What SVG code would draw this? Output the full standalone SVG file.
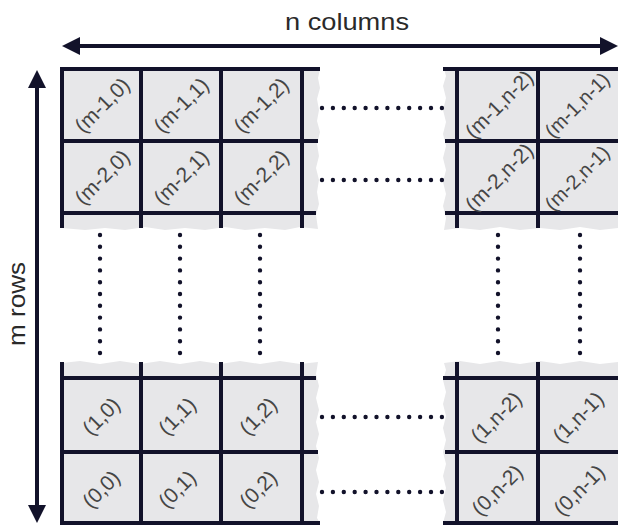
<svg xmlns="http://www.w3.org/2000/svg" width="618" height="530" viewBox="0 0 618 530">
<style>
.blk{fill:#e7e7e9;stroke:none}
.ln{stroke:#12122a;stroke-width:4;stroke-linecap:butt;fill:none}
.dotsH{stroke:#12122a;stroke-width:4.4;stroke-linecap:round;stroke-dasharray:0 10.9;fill:none}
.dotsV{stroke:#12122a;stroke-width:4.4;stroke-linecap:round;stroke-dasharray:0 11.8;fill:none}
.lbl{font-family:"Liberation Sans",Arial,sans-serif;font-size:21px;fill:#454545;text-anchor:middle}
.sm{font-size:20px}
.ttl{font-family:"Liberation Sans",Arial,sans-serif;font-size:24px;fill:#2a2a2a;text-anchor:middle}
.arr{stroke:#12122a;stroke-width:4;fill:none}
</style>
<defs>
<marker id="ah" viewBox="0 0 18 18" refX="0" refY="9" markerWidth="18" markerHeight="18" markerUnits="userSpaceOnUse" orient="auto-start-reverse">
<path d="M0,0 L18,9 L0,18 Z" fill="#12122a"/>
</marker>
</defs>
<rect width="618" height="530" fill="#ffffff"/>

<g id="blocks">
<path class="blk" d="M62,69 H320 L318,78 L320,88 L317,99 L319,110 L317,121 L320,132 L317,144 L319,156 L316,168 L319,180 L317,192 L319,204 L316,215 L318,229 L300,227 L285,230 L265,228 L245,230 L225,227 L205,230 L185,228 L165,230 L145,227 L125,230 L105,228 L85,230 L62,228 Z"/>
<path class="blk" d="M444,69 H618 V228 L600,230 L580,227 L560,230 L540,228 L520,230 L500,227 L480,230 L460,228 L444,230 L446,218 L443,206 L446,194 L443,182 L446,170 L443,158 L446,146 L443,134 L446,122 L443,110 L446,98 L443,86 L446,76 Z"/>
<path class="blk" d="M62,363 L80,361 L100,364 L120,361 L140,364 L160,361 L180,364 L200,361 L220,364 L240,361 L260,364 L280,361 L300,364 L318,362 L316,374 L319,386 L316,398 L319,410 L316,422 L319,434 L316,446 L319,458 L316,470 L319,482 L316,494 L319,506 L317,518 L320,523 H62 Z"/>
<path class="blk" d="M444,363 L460,361 L480,364 L500,361 L520,364 L540,361 L560,364 L580,361 L600,364 L618,362 V523 H443 L446,512 L443,500 L446,488 L443,476 L446,464 L443,452 L446,440 L443,428 L446,416 L443,404 L446,392 L443,380 L446,370 Z"/>
</g>

<g id="grid">
<path class="ln" d="M60,69 H320 M60,141 H318 M60,213 H316 M62,67 V228 M141,67 V228 M221,67 V228 M302,67 V228"/>
<path class="ln" d="M443,69 H618 M445,141 H618 M445,213 H618 M457,67 V228 M538,67 V228"/>
<path class="ln" d="M60,378 H316 M60,452 H318 M60,523 H320 M62,362 V525 M141,362 V525 M221,362 V525 M302,362 V525"/>
<path class="ln" d="M443,378 H618 M445,452 H618 M443,523 H618 M457,362 V525 M538,362 V525"/>
</g>

<g id="ellipses">
<path class="dotsH" d="M322,108 H443 M322,180 H443 M322,417 H443 M322,492 H443"/>
<path class="dotsV" d="M100,235 V355 M180,235 V355 M260,235 V355 M498,235 V355 M580,235 V355"/>
</g>

<g id="cell-m1-0"><text class="lbl" transform="translate(102,105) rotate(-45)" dy="0.35em">(m-1,0)</text></g>
<g id="cell-m1-1"><text class="lbl" transform="translate(181,105) rotate(-45)" dy="0.35em">(m-1,1)</text></g>
<g id="cell-m1-2"><text class="lbl" transform="translate(261,105) rotate(-45)" dy="0.35em">(m-1,2)</text></g>
<g id="cell-m1-n2"><text class="lbl" transform="translate(499,104) rotate(-45)" dy="0.35em">(m-1,n-2)</text></g>
<g id="cell-m1-n1"><text class="lbl sm" transform="translate(577,105) rotate(-45)" dy="0.35em">(m-1,n-1)</text></g>

<g id="cell-m2-0"><text class="lbl" transform="translate(102,177) rotate(-45)" dy="0.35em">(m-2,0)</text></g>
<g id="cell-m2-1"><text class="lbl" transform="translate(181,177) rotate(-45)" dy="0.35em">(m-2,1)</text></g>
<g id="cell-m2-2"><text class="lbl" transform="translate(261,177) rotate(-45)" dy="0.35em">(m-2,2)</text></g>
<g id="cell-m2-n2"><text class="lbl" transform="translate(499,177) rotate(-45)" dy="0.35em">(m-2,n-2)</text></g>
<g id="cell-m2-n1"><text class="lbl sm" transform="translate(577,178) rotate(-45)" dy="0.35em">(m-2,n-1)</text></g>

<g id="cell-1-0"><text class="lbl" transform="translate(101,416) rotate(-45)" dy="0.35em">(1,0)</text></g>
<g id="cell-1-1"><text class="lbl" transform="translate(177,416) rotate(-45)" dy="0.35em">(1,1)</text></g>
<g id="cell-1-2"><text class="lbl" transform="translate(258,416) rotate(-45)" dy="0.35em">(1,2)</text></g>
<g id="cell-1-n2"><text class="lbl" transform="translate(496,417) rotate(-45)" dy="0.35em">(1,n-2)</text></g>
<g id="cell-1-n1"><text class="lbl" transform="translate(578,417) rotate(-45)" dy="0.35em">(1,n-1)</text></g>

<g id="cell-0-0"><text class="lbl" transform="translate(101,489) rotate(-45)" dy="0.35em">(0,0)</text></g>
<g id="cell-0-1"><text class="lbl" transform="translate(177,489) rotate(-45)" dy="0.35em">(0,1)</text></g>
<g id="cell-0-2"><text class="lbl" transform="translate(258,489) rotate(-45)" dy="0.35em">(0,2)</text></g>
<g id="cell-0-n2"><text class="lbl" transform="translate(497,490) rotate(-45)" dy="0.35em">(0,n-2)</text></g>
<g id="cell-0-n1"><text class="lbl" transform="translate(579,490) rotate(-45)" dy="0.35em">(0,n-1)</text></g>

<g id="connectors">
<path class="arr" d="M80,46 H600" marker-start="url(#ah)" marker-end="url(#ah)"/>
<path class="arr" d="M37,88 V505" marker-start="url(#ah)" marker-end="url(#ah)"/>
</g>

<g id="label-columns"><text class="ttl" x="347" y="30" textLength="124" lengthAdjust="spacingAndGlyphs">n columns</text></g>
<g id="label-rows"><text class="ttl" transform="translate(25,304) rotate(-90)" textLength="84" lengthAdjust="spacingAndGlyphs">m rows</text></g>
</svg>
